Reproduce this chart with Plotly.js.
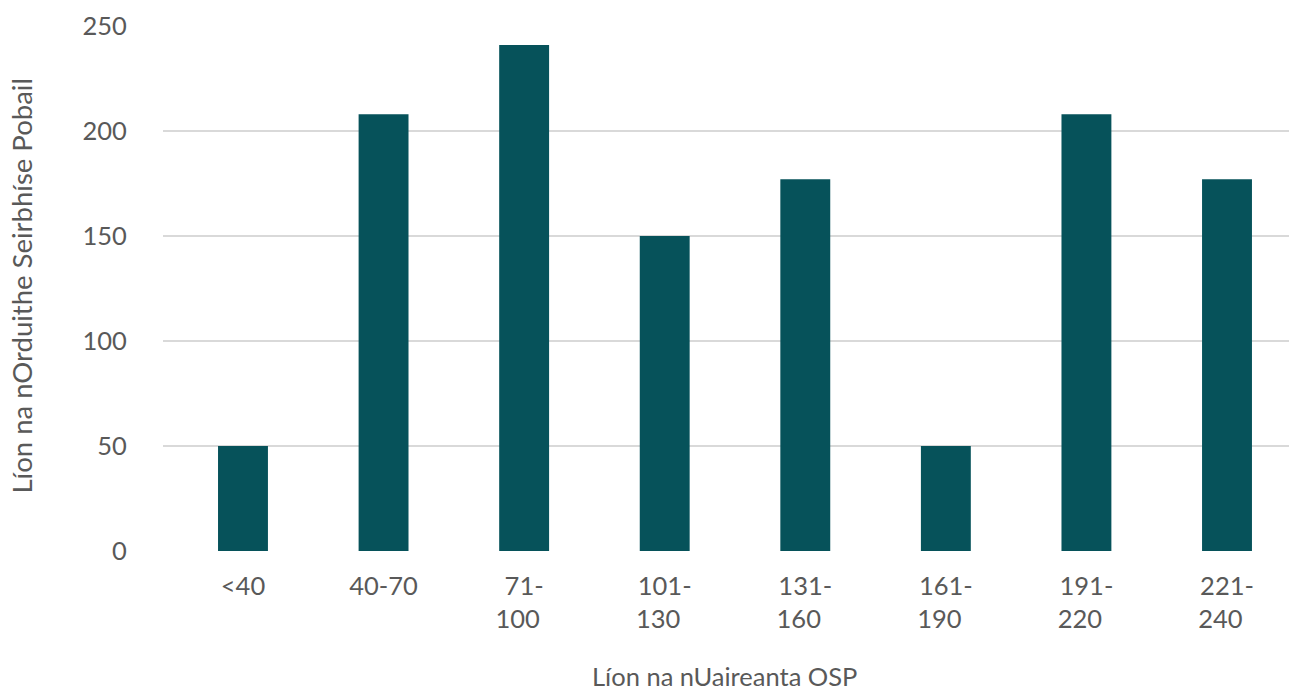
<!DOCTYPE html>
<html>
<head>
<meta charset="utf-8">
<script src="https://cdn.plot.ly/plotly-3.0.1.min.js"></script>
<style>html,body{margin:0;padding:0;background:#fff;}#chart{width:1289px;height:690px;}</style>
</head>
<body>
<div id="chart"></div>
<script>
const categories = ["<40", "40-70", "71-100", "101-130", "131-160", "161-190", "191-220", "221-240"];
const tickLabels = ["<40", "40-70", "71-<br>100\u00a0\u00a0", "101-<br>130\u00a0\u00a0", "131-<br>160\u00a0\u00a0", "161-<br>190\u00a0\u00a0", "191-<br>220\u00a0\u00a0", "221-<br>240\u00a0\u00a0"];
const values = [50, 208, 241, 150, 177, 50, 208, 177];
const yTicks = [0, 50, 100, 150, 200, 250];
const xTitle = "Líon na nUaireanta OSP";
const yTitle = "Líon na nOrduithe Seirbhíse Pobail";

const textColor = "#595959";
const family = "Lato, 'Open Sans', sans-serif";
const font = {family: family, size: 25.5, color: textColor};
const yTitleFont = {family: family, size: 27.5, color: textColor};

const trace = {
  type: "bar",
  x: categories.map((c, i) => i),
  y: values,
  marker: {color: "#06525A"},
  hoverinfo: "skip"
};

const layout = {
  width: 1289, height: 690,
  margin: {l: 163, r: 0, t: 26, b: 139, pad: 0},
  paper_bgcolor: "#fff", plot_bgcolor: "#fff",
  font: font,
  showlegend: false,
  bargap: 0.645,
  xaxis: {
    range: [-0.569, 7.441],
    tickvals: categories.map((c, i) => i),
    ticktext: tickLabels,
    ticks: "outside", ticklen: 12, tickcolor: "rgba(0,0,0,0)",
    showgrid: false, zeroline: false, showline: false,
    tickfont: font
  },
  yaxis: {
    range: [0, 250],
    tickvals: yTicks,
    ticks: "outside", ticklen: 30, tickcolor: "rgba(0,0,0,0)",
    showgrid: true, gridcolor: "#d9d9d9", gridwidth: 2,
    zeroline: false, showline: false,
    tickfont: font
  },
  annotations: [
    {text: xTitle, xref: "paper", yref: "paper", x: 0.4985, y: -0.238, yanchor: "middle", xanchor: "center", showarrow: false, font: font},
    {text: yTitle, xref: "paper", yref: "paper", x: -0.126, y: 0.504, xanchor: "center", yanchor: "middle", textangle: -90, showarrow: false, font: yTitleFont}
  ]
};

Plotly.newPlot("chart", [trace], layout, {staticPlot: true, displayModeBar: false});
</script>
</body>
</html>
